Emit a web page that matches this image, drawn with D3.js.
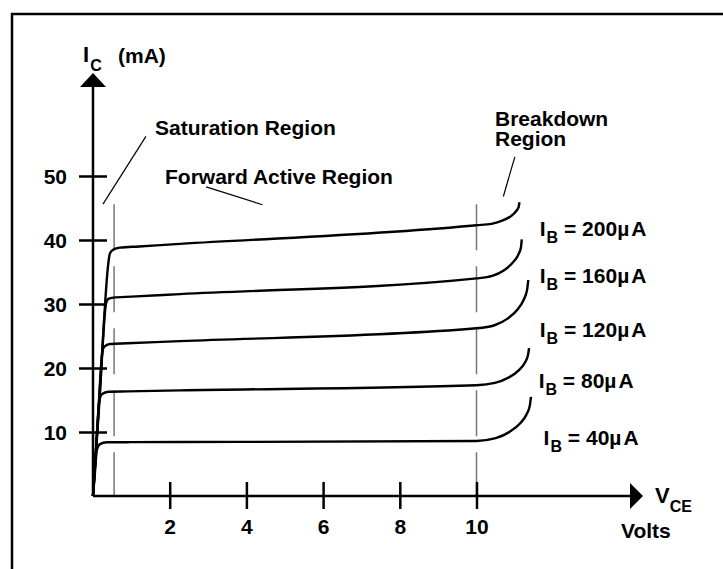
<!DOCTYPE html>
<html>
<head>
<meta charset="utf-8">
<script src="https://cdn.jsdelivr.net/npm/d3@7"></script>
<style>
  html, body { margin: 0; padding: 0; background: #fff; }
  svg { display: block; }
  text { font-family: "Liberation Sans", Arial, Helvetica, sans-serif; font-weight: bold; fill: #000; }
</style>
</head>
<body>
<svg id="chart" width="723" height="569"></svg>
<script>
// ---- data (VCE in volts, IC in mA) ----
const xTicks = [2, 4, 6, 8, 10];
const xTickLabels = ["2", "4", "6", "8", "10"];
const yTicks = [10, 20, 30, 40, 50];
const yTickLabels = ["10", "20", "30", "40", "50"];

const ibNames = ["200", "160", "120", "80", "40"];
const curve200 = [[0,0],[0.2,18.7],[0.40,36.4],[0.44,37.9],[0.53,38.5],[0.70,38.8],[1.2,38.99],[2.27,39.39],[10,42.3],
  [10.39,42.53],[10.67,43.02],[10.9,43.74],[11.03,44.49],[11.1,45.18],[11.12,45.9]];
const curve160 = [[0,0],[0.17,15],[0.34,30.1],[0.40,30.8],[0.53,31.0],[1.0,31.15],[2.27,31.55],[10,34.0],
  [10.41,34.38],[10.71,35.22],[10.94,36.44],[11.09,37.71],[11.16,38.88],[11.18,40.1]];
const curve120 = [[0,0],[0.12,11],[0.24,22.3],[0.29,23.3],[0.44,23.75],[0.9,23.87],[2.27,24.2],[10,26.2],
  [10.47,26.68],[10.81,27.71],[11.08,29.22],[11.24,30.79],[11.32,32.24],[11.35,33.75]];
const curve80  = [[0,0],[0.08,7.4],[0.16,14.7],[0.23,15.9],[0.40,16.3],[0.9,16.35],[2.27,16.5],[10,17.3],
  [10.48,17.67],[10.82,18.46],[11.1,19.62],[11.26,20.83],[11.34,21.94],[11.37,23.1]];
const curve40  = [[0,0],[0.05,3.6],[0.10,7.2],[0.18,8.1],[0.36,8.4],[0.9,8.41],[2.27,8.43],[10,8.6],
  [10.5,9.03],[10.85,9.98],[11.14,11.36],[11.31,12.8],[11.39,14.12],[11.42,15.5]];
const curves = [curve200, curve160, curve120, curve80, curve40];

// label anchor points for each curve (VCE, IC)
const ibLabelPos = [[11.65,40.6],[11.65,33.3],[11.65,24.9],[11.62,16.8],[11.75,8.0]];

// region boundaries (dashed) and annotation leader lines
const regionBounds = [0.55, 10];
const regionTop = 45.6;
const satLeader = [[1.38,56.2],[0.26,45.6]];
const fwdLeader = [[2.95,48.3],[4.42,45.5]];
const brkLeader = [[11.0,53.0],[10.7,46.8]];

// ---- drawing ----
const FS = "21px";
const svg = d3.select("#chart");
const x = d3.scaleLinear().domain([0, 10]).range([93, 476.5]);
const y = d3.scaleLinear().domain([0, 50]).range([496, 176]);

// frame
svg.append("rect").attr("x", 12).attr("y", 14).attr("width", 740).attr("height", 600)
  .attr("fill", "none").attr("stroke", "#000").attr("stroke-width", 2.5);

// dashed region boundaries
svg.selectAll("line.bound").data(regionBounds).enter().append("line")
  .attr("class", "bound")
  .attr("x1", d => x(d)).attr("x2", d => x(d))
  .attr("y1", y(regionTop)).attr("y2", y(0))
  .attr("stroke", "#777").attr("stroke-width", 1.5)
  .attr("stroke-dasharray", "46,16");

// axes lines
const axisTopY = 86;
const axisRightX = 631;
svg.append("line").attr("x1", x(0)).attr("x2", x(0)).attr("y1", y(0)).attr("y2", axisTopY)
  .attr("stroke", "#000").attr("stroke-width", 2.5);
svg.append("line").attr("x1", x(0)).attr("x2", axisRightX).attr("y1", y(0)).attr("y2", y(0))
  .attr("stroke", "#000").attr("stroke-width", 2.5);
// arrowheads
svg.append("path")
  .attr("d", `M${x(0)-13},${axisTopY+1} L${x(0)},${axisTopY-13} L${x(0)+13},${axisTopY+1} Z`)
  .attr("fill", "#000");
svg.append("path")
  .attr("d", `M${axisRightX-1},${y(0)-13} L${axisRightX+12},${y(0)} L${axisRightX-1},${y(0)+13} Z`)
  .attr("fill", "#000");

// y ticks
const yAxis = d3.axisLeft(y).tickValues(yTicks).tickFormat((d, i) => yTickLabels[i])
  .tickSizeInner(0).tickSizeOuter(0);
const gy = svg.append("g").attr("transform", `translate(${x(0)},0)`).call(yAxis);
gy.select(".domain").remove();
gy.selectAll(".tick line").attr("x1", -14).attr("x2", 14).attr("stroke", "#000").attr("stroke-width", 2.5);
gy.selectAll(".tick text").attr("x", -26).attr("dy", "0.36em")
  .style("font-size", FS).style("font-family", '"Liberation Sans", Arial, sans-serif').style("font-weight", "bold");

// x ticks
const xAxis = d3.axisBottom(x).tickValues(xTicks).tickFormat((d, i) => xTickLabels[i])
  .tickSizeInner(0).tickSizeOuter(0);
const gx = svg.append("g").attr("transform", `translate(0,${y(0)})`).call(xAxis);
gx.select(".domain").remove();
gx.selectAll(".tick line").attr("y1", -14).attr("y2", 13).attr("stroke", "#000").attr("stroke-width", 2.5);
gx.selectAll(".tick text").attr("y", 38).attr("dy", 0)
  .style("font-size", FS).style("font-family", '"Liberation Sans", Arial, sans-serif').style("font-weight", "bold");

// characteristic curves
const line = d3.line().x(d => x(d[0])).y(d => y(d[1])).curve(d3.curveMonotoneX);
svg.selectAll("path.curve").data(curves).enter().append("path")
  .attr("class", "curve")
  .attr("d", line)
  .attr("fill", "none").attr("stroke", "#000").attr("stroke-width", 2.4)
  .attr("stroke-linejoin", "round");

// leader lines
[satLeader, fwdLeader, brkLeader].forEach(l => {
  svg.append("line")
    .attr("x1", x(l[0][0])).attr("y1", y(l[0][1]))
    .attr("x2", x(l[1][0])).attr("y2", y(l[1][1]))
    .attr("stroke", "#000").attr("stroke-width", 1.2);
});

// curve labels
ibNames.forEach((n, i) => {
  const t = svg.append("text")
    .attr("x", x(ibLabelPos[i][0])).attr("y", y(ibLabelPos[i][1]))
    .style("font-size", FS);
  t.append("tspan").text("I");
  t.append("tspan").attr("dy", 7).attr("dx", 1).style("font-size", "16px").text("B");
  t.append("tspan").attr("dy", -7).text(" = " + n);
  t.append("tspan").text("µ");
  t.append("tspan").attr("dx", 2).text("A");
});

// axis titles
const tIC = svg.append("text").attr("x", 83).attr("y", 62).style("font-size", "22px");
tIC.append("tspan").text("I");
tIC.append("tspan").attr("dy", 9).attr("dx", 1).style("font-size", "16px").text("C");
svg.append("text").attr("x", 118).attr("y", 63).style("font-size", FS).text("(mA)");

const tV = svg.append("text").attr("x", 655).attr("y", 503).style("font-size", "22px");
tV.append("tspan").text("V");
tV.append("tspan").attr("dy", 9).attr("dx", 0).style("font-size", "16px").text("CE");
svg.append("text").attr("x", 621).attr("y", 538).style("font-size", FS).text("Volts");

// region annotations
svg.append("text").attr("x", 155).attr("y", 135).style("font-size", FS).text("Saturation Region");
svg.append("text").attr("x", 165).attr("y", 184).style("font-size", FS).text("Forward Active Region");
const tBrk = svg.append("text").attr("x", 495).attr("y", 126).style("font-size", FS);
tBrk.append("tspan").attr("x", 495).attr("y", 126).text("Breakdown");
tBrk.append("tspan").attr("x", 495).attr("y", 146).text("Region");
</script>
</body>
</html>
